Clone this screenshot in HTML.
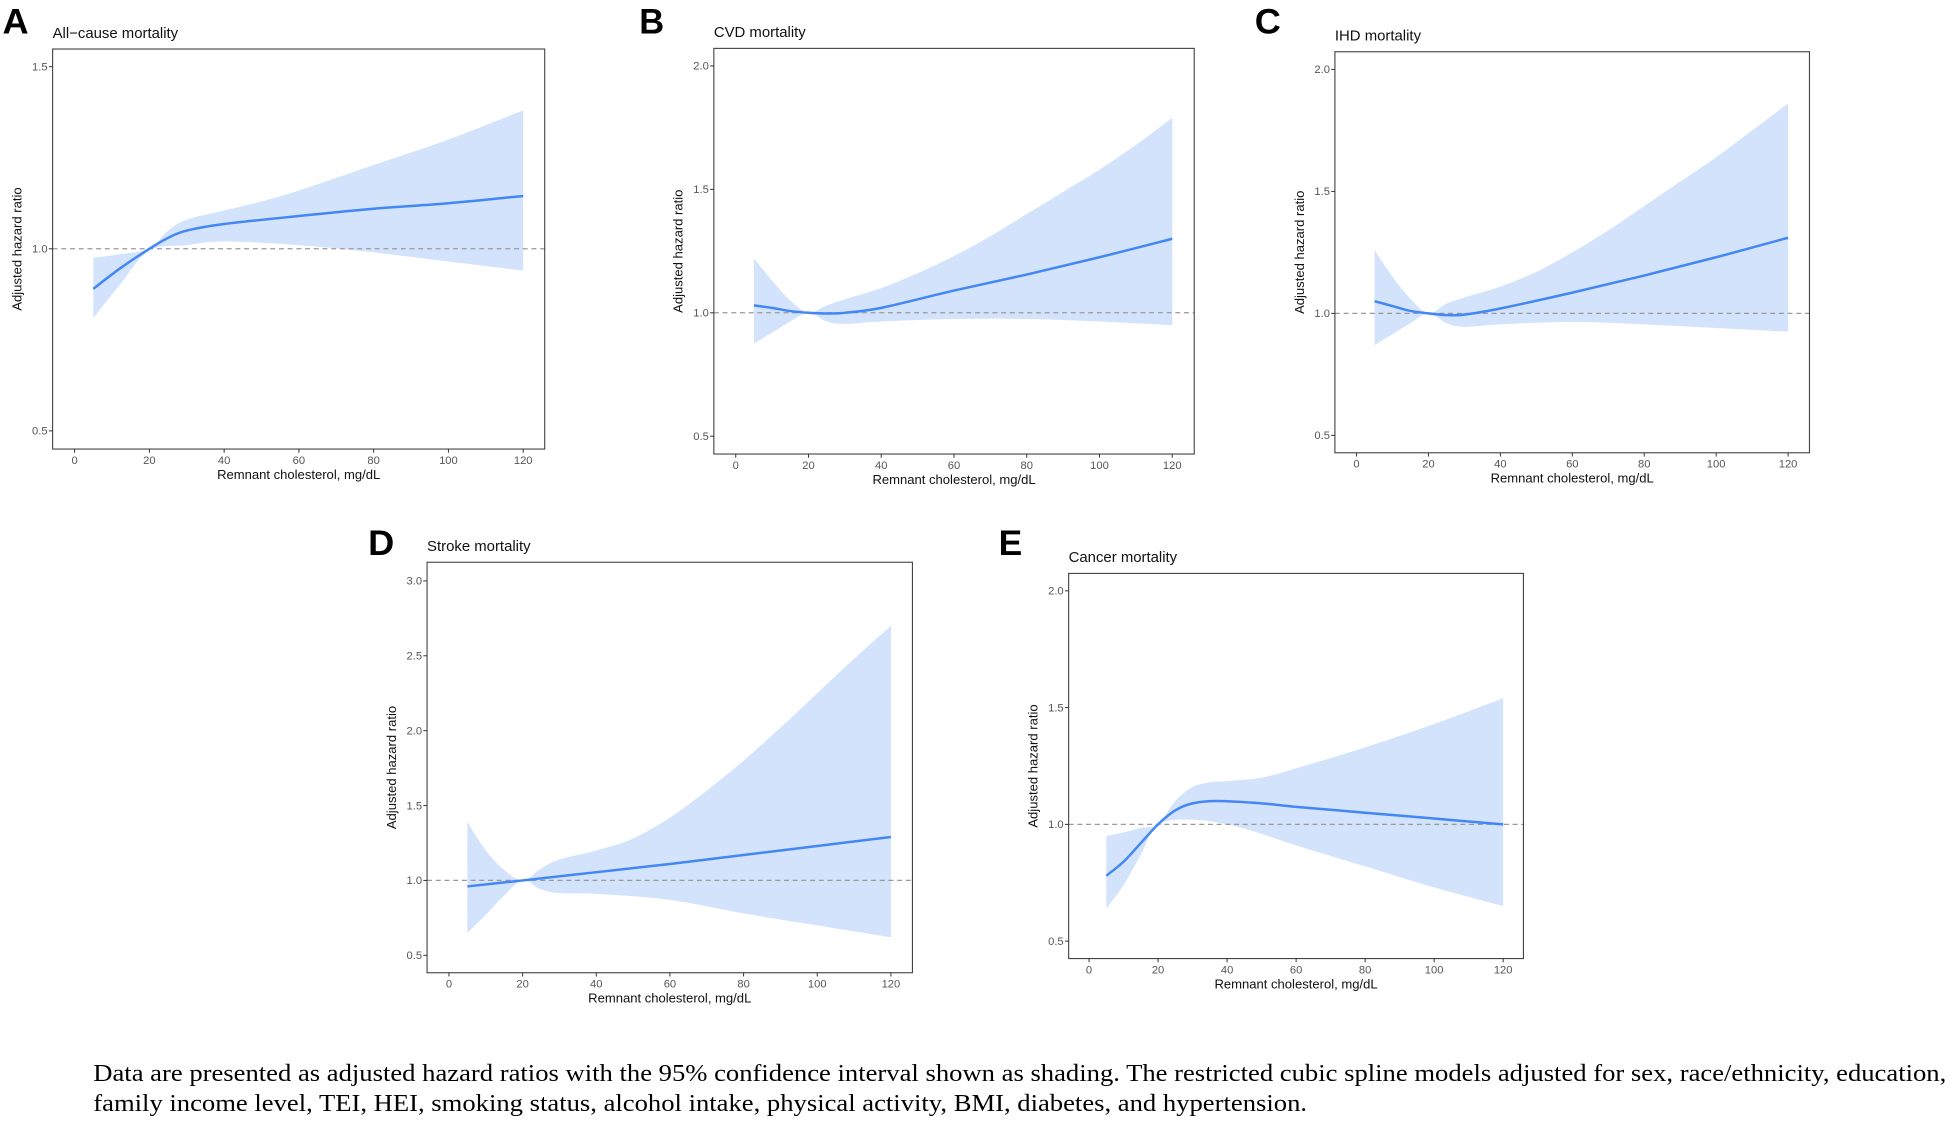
<!DOCTYPE html>
<html><head><meta charset="utf-8"><style>
html,body{margin:0;padding:0;background:#fff;width:1950px;height:1122px;overflow:hidden}
svg{display:block}
text{font-family:"Liberation Sans",Arial,sans-serif}
</style></head><body>
<svg id="s" width="1950" height="1122" viewBox="0 0 1568 902" preserveAspectRatio="none" xmlns="http://www.w3.org/2000/svg">
<text x="2" y="27" font-size="28" font-weight="bold" textLength="21" lengthAdjust="spacingAndGlyphs">A</text>
<text x="514" y="27" font-size="28" font-weight="bold" textLength="20" lengthAdjust="spacingAndGlyphs">B</text>
<text x="1009" y="27" font-size="28" font-weight="bold" textLength="21" lengthAdjust="spacingAndGlyphs">C</text>
<text x="296" y="446" font-size="28" font-weight="bold" textLength="21" lengthAdjust="spacingAndGlyphs">D</text>
<text x="803" y="446" font-size="28" font-weight="bold" textLength="19" lengthAdjust="spacingAndGlyphs">E</text>
<text x="75" y="869" font-size="19.5" style="font-family:'Liberation Serif',serif" textLength="1490" lengthAdjust="spacingAndGlyphs">Data are presented as adjusted hazard ratios with the 95% confidence interval shown as shading. The restricted cubic spline models adjusted for sex, race/ethnicity, education,</text>
<text x="75" y="893" font-size="19.5" style="font-family:'Liberation Serif',serif" textLength="976" lengthAdjust="spacingAndGlyphs">family income level, TEI, HEI, smoking status, alcohol intake, physical activity, BMI, diabetes, and hypertension.</text>
</svg>
<script>
const NS="http://www.w3.org/2000/svg",S=document.getElementById('s');
function el(t,a,txt){const e=document.createElementNS(NS,t);for(const k in a)e.setAttribute(k,a[k]);if(txt!==undefined)e.textContent=txt;S.appendChild(e);return e;}
function cr(pts){let d=`M${pts[0][0]},${pts[0][1]}`;for(let i=0;i<pts.length-1;i++){const p0=pts[i-1]||pts[i],p1=pts[i],p2=pts[i+1],p3=pts[i+2]||p2;
const c1=[p1[0]+(p2[0]-p0[0])/6,p1[1]+(p2[1]-p0[1])/6],c2=[p2[0]-(p3[0]-p1[0])/6,p2[1]-(p3[1]-p1[1])/6];d+=`C${c1[0]},${c1[1]} ${c2[0]},${c2[1]} ${p2[0]},${p2[1]}`;}return d;}
function crRev(pts){return cr(pts.slice().reverse()).replace(/^M/,'L');}
function panel(P){
 const X=v=>P.x0+(P.x120-P.x0)*v/120;
 const Y=v=>P.yA+(P.yB-P.yA)*(v-P.vA)/(P.vB-P.vA);
 const m=a=>a.map(p=>[X(p[0]),Y(p[1])]);
 const up=m(P.up),lo=m(P.lo),ln=m(P.ln);
 el('path',{d:cr(up)+crRev(lo)+'Z',fill:'#d3e3fb',stroke:'none'});
 el('line',{x1:P.L,x2:P.R,y1:Y(1),y2:Y(1),stroke:'#9a9a9a','stroke-width':1,'stroke-dasharray':'4,3'});
 el('path',{d:cr(ln),fill:'none',stroke:'#4387f4','stroke-width':2});
 el('rect',{x:P.L,y:P.T,width:P.R-P.L,height:P.B-P.T,fill:'none',stroke:'#444','stroke-width':0.9});
 P.yt.forEach(v=>{const y=Y(v);el('line',{x1:P.L-3,x2:P.L,y1:y,y2:y,stroke:'#333','stroke-width':0.8});
  el('text',{x:P.L-4,y:y+3,'font-size':9,'text-anchor':'end',fill:'#555'},v.toFixed(1));});
 [0,20,40,60,80,100,120].forEach(v=>{const x=X(v);el('line',{x1:x,x2:x,y1:P.B,y2:P.B+3,stroke:'#333','stroke-width':0.8});
  el('text',{x:x,y:P.B+12,'font-size':9,'text-anchor':'middle',fill:'#555'},v);});
 el('text',{x:(P.L+P.R)/2,y:P.B+24,'font-size':10.5,'text-anchor':'middle',fill:'#111'},'Remnant cholesterol, mg/dL');
 const cy=(P.T+P.B)/2;el('text',{x:P.L-25,y:cy,'font-size':10.5,'text-anchor':'middle',fill:'#111',transform:`rotate(-90 ${P.L-25} ${cy})`},'Adjusted hazard ratio');
 el('text',{x:P.L,y:P.T-9,'font-size':12,fill:'#111'},P.title);
}
panel({title:'All\u2212cause mortality',L:42.3,R:438,T:39.4,B:361,x0:60,x120:420.7,vA:1.5,yA:53.6,vB:0.5,yB:346.4,yt:[0.5,1.0,1.5],
 ln:[[5,0.89],[12,0.945],[20,1.0],[25,1.03],[30,1.05],[40,1.068],[60,1.09],[80,1.11],[100,1.125],[120,1.145]],
 up:[[5,0.975],[12,0.985],[20,1.0],[25,1.05],[30,1.08],[40,1.105],[50,1.13],[60,1.16],[80,1.23],[100,1.3],[120,1.38]],
 lo:[[5,0.81],[12,0.9],[20,0.995],[30,1.01],[40,1.02],[60,1.01],[80,0.99],[100,0.965],[120,0.94]]});
panel({title:'CVD mortality',L:574,R:960.3,T:38.9,B:365,x0:591.6,x120:942.6,vA:2.0,yA:53,vB:0.5,yB:350.7,yt:[0.5,1.0,1.5,2.0],
 ln:[[5,1.03],[10,1.02],[15,1.007],[20,1.0],[25,0.997],[30,1.0],[40,1.02],[60,1.09],[80,1.155],[100,1.225],[120,1.3]],
 up:[[5,1.22],[10,1.13],[15,1.05],[20,1.0],[25,1.03],[30,1.055],[40,1.1],[50,1.16],[60,1.23],[70,1.31],[80,1.4],[90,1.49],[100,1.58],[110,1.68],[120,1.79]],
 lo:[[5,0.875],[10,0.92],[15,0.965],[20,1.0],[25,0.965],[30,0.955],[40,0.965],[60,0.975],[80,0.975],[100,0.965],[120,0.95]]});
panel({title:'IHD mortality',L:1073.4,R:1455,T:41.6,B:364,x0:1090.8,x120:1437.8,vA:2.0,yA:55.8,vB:0.5,yB:350,yt:[0.5,1.0,1.5,2.0],
 ln:[[5,1.05],[10,1.03],[15,1.01],[20,1.0],[25,0.993],[30,0.995],[40,1.02],[60,1.085],[80,1.155],[100,1.23],[120,1.31]],
 up:[[5,1.26],[10,1.15],[15,1.06],[20,1.0],[25,1.04],[30,1.065],[40,1.11],[50,1.17],[60,1.25],[70,1.34],[80,1.44],[90,1.54],[100,1.64],[110,1.75],[120,1.86]],
 lo:[[5,0.87],[10,0.915],[15,0.96],[20,1.0],[25,0.96],[30,0.945],[40,0.955],[60,0.965],[80,0.955],[100,0.94],[120,0.925]]});
panel({title:'Stroke mortality',L:343.4,R:733.7,T:452,B:782,x0:361,x120:716.4,vA:3.0,yA:467,vB:0.5,yB:768,yt:[0.5,1.0,1.5,2.0,2.5,3.0],
 ln:[[5,0.96],[20,1.0],[40,1.055],[60,1.11],[80,1.17],[100,1.23],[120,1.29]],
 up:[[5,1.39],[10,1.2],[15,1.07],[20,1.0],[25,1.08],[30,1.14],[40,1.2],[50,1.28],[60,1.42],[70,1.6],[80,1.8],[90,2.02],[100,2.25],[110,2.48],[120,2.7]],
 lo:[[5,0.65],[10,0.77],[15,0.9],[20,1.0],[25,0.94],[30,0.915],[40,0.91],[60,0.87],[80,0.78],[100,0.7],[120,0.62]]});
panel({title:'Cancer mortality',L:859.3,R:1225,T:461,B:770.6,x0:875.7,x120:1208.7,vA:2.0,yA:475,vB:0.5,yB:756.6,yt:[0.5,1.0,1.5,2.0],
 ln:[[5,0.78],[10,0.84],[15,0.92],[20,1.0],[25,1.06],[30,1.09],[37,1.1],[50,1.09],[60,1.075],[80,1.05],[100,1.025],[120,1.0]],
 up:[[5,0.95],[10,0.965],[15,0.985],[20,1.0],[25,1.1],[30,1.16],[35,1.18],[40,1.185],[50,1.2],[60,1.24],[80,1.33],[100,1.43],[120,1.54]],
 lo:[[5,0.64],[10,0.74],[15,0.87],[20,1.0],[30,1.02],[40,1.0],[50,0.96],[60,0.91],[80,0.82],[100,0.73],[120,0.65]]});
</script>
</body></html>
